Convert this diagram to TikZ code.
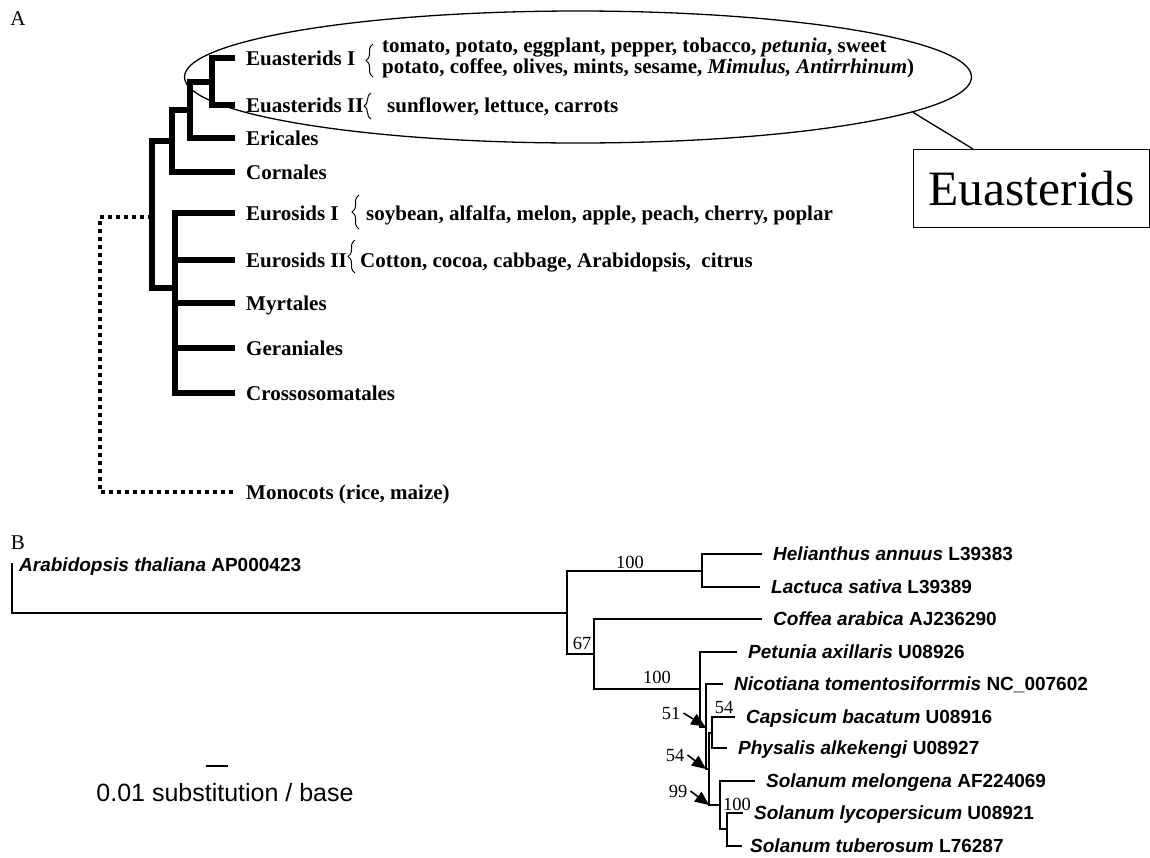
\documentclass[tikz,border=0pt]{standalone}
\usepackage{fontspec}
\setmainfont{Liberation Serif}
\newfontfamily\arialf{Liberation Sans}
\usetikzlibrary{arrows.meta,decorations.pathreplacing,shapes.geometric,calc}
\begin{document}
\begin{tikzpicture}[x=1pt,y=-1pt,
  thk/.style={line width=6pt},
  dotl/.style={line width=4pt, dash pattern=on 4pt off 4pt},
  alab/.style={anchor=west, inner sep=0pt, font=\fontsize{21}{20}\selectfont\bfseries, text height=14pt, text depth=0pt},
  blab/.style={anchor=west, inner sep=0pt, font=\fontsize{19}{20}\selectfont\arialf\bfseries, text height=13.6pt, text depth=0pt},
  thn/.style={line width=1.6pt},
  bs/.style={inner sep=0pt, font=\fontsize{18.5}{18}\selectfont},
  brc/.style={decorate, decoration={brace, amplitude=7pt}, line width=1pt},
  arr/.style={line width=1.6pt, -{Triangle[length=14pt,width=12pt]}},
  pan/.style={inner sep=0pt, font=\fontsize{21}{21}\selectfont},
]
\useasboundingbox (0,0) rectangle (1150,857);

% ---------------- Panel A ----------------
\node[pan] (pA) at (18,19) {A};

\node[draw, ellipse, line width=1.3pt, minimum width=787pt, minimum height=132pt, inner sep=0pt] (ell) at (578,77) {};

\node[alab] (ei)   at (246,58)  {Euasterids I};
\node[alab] (eii)  at (246,105) {Euasterids II};
\node[alab] (eri)  at (246,138) {Ericales};
\node[alab] (cor)  at (246,172) {Cornales};
\node[alab] (eu1)  at (246,213) {Eurosids I};
\node[alab] (eu2)  at (246,260) {Eurosids II};
\node[alab] (myr)  at (246,303) {Myrtales};
\node[alab] (ger)  at (246,348) {Geraniales};
\node[alab] (cro)  at (246,393) {Crossosomatales};
\node[alab] (mono) at (246,492) {Monocots (rice, maize)};

\node[anchor=west, align=left, inner sep=0pt, font=\fontsize{21}{21.5}\selectfont\bfseries] (eit) at (382,58)
  {tomato, potato, eggplant, pepper, tobacco, \textit{petunia}, sweet\\potato, coffee, olives, mints, sesame, \textit{Mimulus, Antirrhinum})};
\node[alab] (eiit) at (387,105) {sunflower, lettuce, carrots};
\node[alab] (eu1t) at (366,213) {soybean, alfalfa, melon, apple, peach, cherry, poplar};
\node[alab] (eu2t) at (360,260) {Cotton, cocoa, cabbage, Arabidopsis,\ \ citrus};

\draw[brc] (373,77) -- (373,44);
\draw[brc] (371,119) -- (371,93);
\draw[brc] (359,229) -- (359,195);
\draw[brc] (355,273) -- (355,240);

\coordinate (n1) at (212,81.5);
\coordinate (n2) at (190,110);
\coordinate (n3) at (172,141);
\coordinate (n4) at (152,217);
\coordinate (n5) at (175,288);
\coordinate (rt) at (100,355);

\draw[thk] ([xshift=-11pt]ei.west) -| (n1) |- ([xshift=-11pt]eii.west);
\draw[thk] (n1) -| (n2) |- ([xshift=-11pt]eri.west);
\draw[thk] (n2) -| (n3) |- ([xshift=-11pt]cor.west);
\draw[thk] (n3) -| (n4) |- (n5);
\draw[thk] ([xshift=-11pt]eu1.west) -| (n5) |- ([xshift=-11pt]cro.west);
\draw[thk] (n5 |- eu2.west) -- ([xshift=-11pt]eu2.west);
\draw[thk] (n5 |- myr.west) -- ([xshift=-11pt]myr.west);
\draw[thk] (n5 |- ger.west) -- ([xshift=-11pt]ger.west);
\draw[dotl] (n4) -| (rt) |- ([xshift=-11pt]mono.west);

\node[draw, line width=1.3pt, anchor=north west, minimum width=236pt, minimum height=78pt, inner sep=0pt,
      font=\fontsize{49.5}{50}\selectfont] (box) at (913,149) {Euasterids};
\draw[line width=1.3pt] (ell.-6) -- ([xshift=60pt]box.north west);

% ---------------- Panel B ----------------
\node[pan] (pB) at (18,543) {B};

\node[blab] (ara) at (19,565) {\textit{Arabidopsis thaliana} AP000423};
\node[blab] (hel) at (773,554) {\textit{Helianthus annuus} L39383};
\node[blab] (lac) at (771,587) {\textit{Lactuca sativa} L39389};
\node[blab] (cof) at (773,619) {\textit{Coffea arabica} AJ236290};
\node[blab] (pet) at (748,652) {\textit{Petunia axillaris} U08926};
\node[blab] (nic) at (734,684) {\textit{Nicotiana tomentosiforrmis} NC\_007602};
\node[blab] (cap) at (746,717) {\textit{Capsicum bacatum} U08916};
\node[blab] (phy) at (738,748) {\textit{Physalis alkekengi} U08927};
\node[blab] (mel) at (766,781) {\textit{Solanum melongena} AF224069};
\node[blab] (lyc) at (754,813) {\textit{Solanum lycopersicum} U08921};
\node[blab] (tub) at (750,846) {\textit{Solanum tuberosum} L76287};

\coordinate (bR)  at (12,563);
\coordinate (nA)  at (567,613);
\coordinate (nB)  at (702,571);
\coordinate (nC)  at (594,654);
\coordinate (nD)  at (700,689);
\coordinate (n51) at (706,727);
\coordinate (n54) at (709,769);
\coordinate (nCP) at (712,733);
\coordinate (n99) at (720,805);
\coordinate (n100) at (727,829);

\draw[thn] (bR) |- (nA);
\draw[thn] (nB) -| (nA) |- (nC);
\draw[thn] ([xshift=-11pt]hel.west) -| (nB) |- ([xshift=-11pt]lac.west);
\draw[thn] ([xshift=-11pt]cof.west) -| (nC) |- (nD);
\draw[thn] ([xshift=-11pt]pet.west) -| (nD) |- (n51);
\draw[thn] ([xshift=-11pt]nic.west) -| (n51) |- (n54);
\draw[thn] (nCP) -| (n54) |- (n99);
\draw[thn] ([xshift=-11pt]cap.west) -| (nCP) |- ([xshift=-11pt]phy.west);
\draw[thn] ([xshift=-11pt]mel.west) -| (n99) |- (n100);
\draw[thn] ([xshift=-11pt]lyc.west) -| (n100) |- ([xshift=-8pt]tub.west);

\node[bs] (b100a) at (630,562) {100};
\node[bs] (b67)   at (582,643) {67};
\node[bs] (b100b) at (657,677) {100};
\node[bs] (b54a)  at (724,707) {54};
\node[bs] (b100c) at (737,804) {100};
\node[bs] (b51)   at (671,713) {51};
\node[bs] (b54b)  at (675,755) {54};
\node[bs] (b99)   at (678,791) {99};

\draw[arr, shorten >=1pt] ([xshift=3pt]b51.east) -- (n51);
\draw[arr] ([xshift=3pt]b54b.east) -- (n51 |- n54);
\draw[arr] ([xshift=3pt]b99.east) -- (n54 |- n99);

\coordinate (sb1) at (206,766);
\coordinate (sb2) at (228,766);
\draw[thn] (sb1) -- (sb2);
\node[inner sep=0pt, font=\fontsize{25}{26}\selectfont\arialf] (sbt) at (225,793) {0.01 substitution / base};
\end{tikzpicture}
\end{document}
